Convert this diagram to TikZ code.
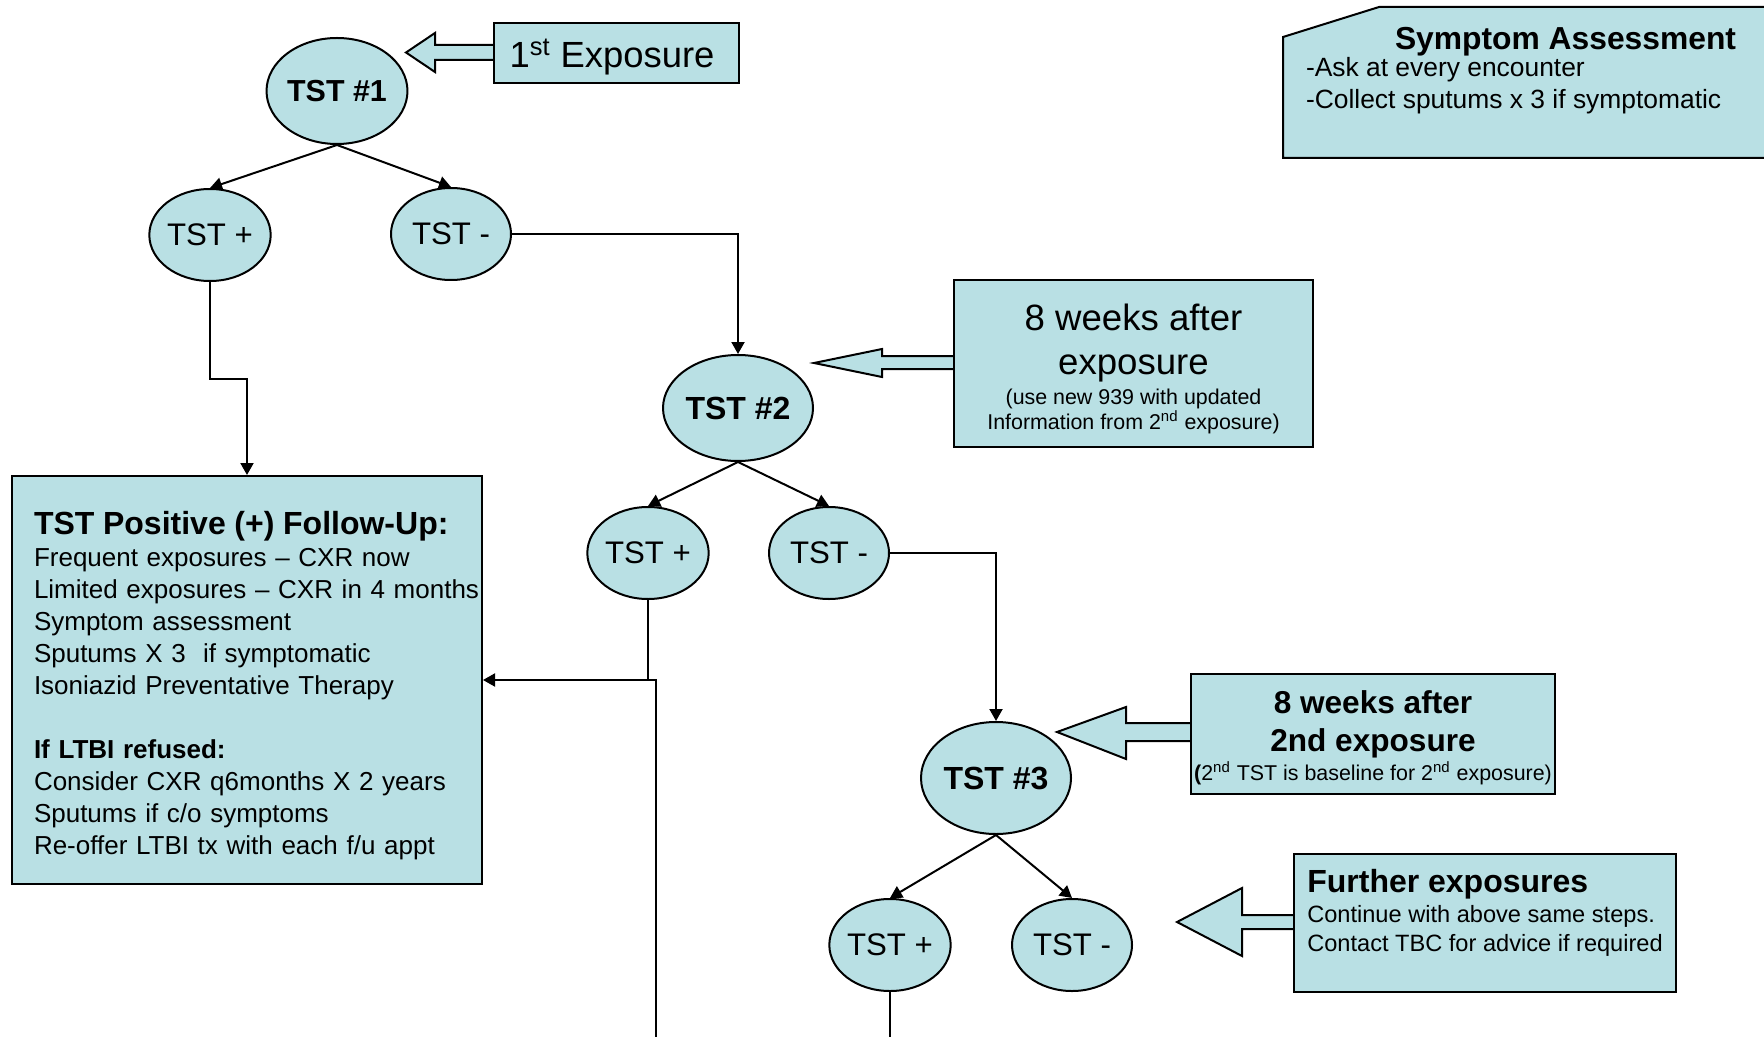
\documentclass[tikz,border=0pt]{standalone}
\usepackage{fontspec}
\setmainfont{Liberation Sans}
\usetikzlibrary{arrows.meta,shapes.geometric}
\definecolor{tbblue}{RGB}{185,224,228}

\begin{document}
\begin{tikzpicture}[x=0.5pt, y=-0.5pt, line width=1pt,
  every node/.style={inner sep=0pt},
  tst/.style={ellipse, draw=black, fill=tbblue, minimum width=60pt, minimum height=46pt, font=\fontsize{15.6}{18}\selectfont},
  tstbig/.style={tst, minimum width=75pt, minimum height=53pt, font=\bfseries\fontsize{16}{19}\selectfont},
  infobox/.style={rectangle, draw=black, fill=tbblue},
  callout/.style={draw=black, fill=tbblue, line join=miter},
  arr/.style={-{Triangle[length=6pt,width=6.5pt]}}]
\useasboundingbox (0,0) rectangle (1764,1037);

% Symptom box, runs off the right edge
\draw[callout] (1283,158) -- (1283,37) -- (1379,7) -- (1800,7) -- (1800,158) -- cycle;
\node[anchor=north west, align=left, font=\fontsize{13.2}{16}\selectfont] (symptom) at (1305,26)
  {\hspace*{44.5pt}{\bfseries\fontsize{15.9}{16}\selectfont Symptom Assessment}\\[-2.5pt]
   -Ask at every encounter\\
   -Collect sputums x 3 if symptomatic};

% block arrows pointing at the tests
\draw[callout] (494,45) -- (435,45) -- (435,33) -- (406,52.5) -- (435,72) -- (435,60) -- (494,60);
\draw[callout] (954,356) -- (882,356) -- (882,349) -- (814,363) -- (882,377) -- (882,369) -- (954,369);
\draw[callout] (1191,723) -- (1126,723) -- (1126,707) -- (1057,732) -- (1126,759) -- (1126,741) -- (1191,741);
\draw[callout] (1294,915) -- (1242,915) -- (1242,888) -- (1177,922) -- (1242,956) -- (1242,929) -- (1294,929);

% text boxes
\node[infobox, minimum width=122.5pt, minimum height=30pt, text height=17pt, text depth=2pt, font=\fontsize{18.2}{22}\selectfont] (exposure1) at (616.5,53)
  {\hspace*{-4.5pt}1\textsuperscript{st} Exposure};
\node[infobox, minimum width=179.5pt, minimum height=83.5pt, align=center, font=\fontsize{18.3}{22}\selectfont] (weeks2) at (1133.5,363.5)
  {\rule{0pt}{18.4pt}8 weeks after\\
   exposure\\[-7pt]
   {\fontsize{10.7}{12.5}\selectfont (use new 939 with updated}\\[-9.5pt]
   {\fontsize{10.7}{12.5}\selectfont Information from 2\textsuperscript{nd} exposure)}};
\node[infobox, minimum width=182pt, minimum height=60pt, align=center, font=\bfseries\fontsize{15.8}{19}\selectfont] (weeks3) at (1373,734)
  {\rule{0pt}{15.5pt}8 weeks after\\
   2nd exposure\\[-4.7pt]
   {\mdseries\fontsize{10.7}{12.5}\selectfont\textbf{(}2\textsuperscript{nd} TST is baseline for 2\textsuperscript{nd} exposure)}};
\node[infobox, minimum width=191pt, minimum height=69pt, align=left, font=\fontsize{11.8}{14.6}\selectfont] (further) at (1485,923)
  {{\bfseries\fontsize{16}{16}\selectfont Further exposures}\\
   Continue with above same steps.\\
   Contact TBC for advice if required\rule[-12.5pt]{0pt}{1pt}};
\node[infobox, minimum width=235pt, minimum height=204pt, text width=213pt, inner xsep=11pt, align=left, font=\fontsize{13}{16}\selectfont] (followup) at (247,680)
  {\rule{0pt}{16.7pt}{\bfseries\fontsize{16}{16}\selectfont TST Positive (+) Follow-Up:}\\
   Frequent exposures – CXR now\\
   \mbox{Limited exposures – CXR in 4 months}\\
   Symptom assessment\\
   Sputums X 3\ \ if symptomatic\\
   Isoniazid Preventative Therapy\\
   \mbox{}\\
   \textbf{If LTBI refused:}\\
   Consider CXR q6months X 2 years\\
   Sputums if c/o symptoms\\
   Re-offer LTBI tx with each f/u appt};

% the tests
\node[tstbig, minimum width=68.5pt, font=\bfseries\fontsize{15.2}{18}\selectfont] (tst1) at (337,91) {TST \#1};
\node[tst] (pos1) at (210,235) {TST +};
\node[tst] (neg1) at (451,234) {TST -};
\node[tstbig] (tst2) at (738,408) {TST \#2};
\node[tst] (pos2) at (648,553) {TST +};
\node[tst] (neg2) at (829,553) {TST -};
\node[tstbig, minimum height=56pt] (tst3) at (996,778) {TST \#3};
\node[tst] (pos3) at (890,945) {TST +};
\node[tst] (neg3) at (1072,945) {TST -};

% connectors
\draw[arr] (tst1.south) -- (pos1.north);
\draw[arr] (tst1.south) -- (neg1.north);
\draw[arr] (neg1.east) -| (tst2.north);
\draw[arr] (pos1.south) -- ++(0,97) -| (followup.north);
\draw[arr] (tst2.south) -- (pos2.north);
\draw[arr] (tst2.south) -- (neg2.north);
\draw[arr] (neg2.east) -| (tst3.north);
\draw[arr] (tst3.south) -- (pos3.north);
\draw[arr] (tst3.south) -- (neg3.north);
\coordinate (loopin) at (656,1040);
\draw[line width=0.6pt] (loopin) |- (pos2.south |- followup.east);
\draw[arr] (pos2.south) |- (followup.east);
\draw (pos3.south) -- ++(0,60);
\end{tikzpicture}
\end{document}
